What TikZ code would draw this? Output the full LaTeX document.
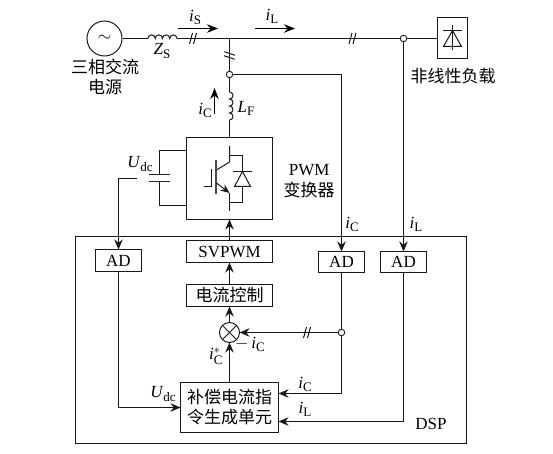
\documentclass[tikz,border=0pt]{standalone}
\usepackage{fontspec}
\setmainfont{Liberation Serif}
\newfontfamily\cjk{Noto Sans CJK SC}
\usepackage{tikz}
\usetikzlibrary{arrows.meta, positioning, calc, shapes.misc}
\newcommand{\isub}[2]{\textit{#1}\raisebox{-0.4ex}{\fontsize{13}{13}\selectfont #2}}
\tikzset{
  % wires
  wire/.style={line width=1pt, draw=black!90},
  arrowstyle/.style={
    wire, -{Stealth[length=10pt, width=8.5pt]}
  },
  flowarrow/.style={
    line width=1pt, -{Stealth[length=11pt, width=8.5pt]}
  },
  % blocks
  blockbox/.style={
    rectangle, draw=black!90, line width=1pt, fill=white,
    inner sep=0pt, outer sep=0pt, align=center,
    font=\fontsize{17}{20}\selectfont
  },
  adbox/.style={blockbox, minimum width=46pt, minimum height=22pt},
  ctrlbox/.style={blockbox, minimum width=86pt, minimum height=22pt},
  junction/.style={
    circle, draw=black!90, line width=0.9pt, fill=white,
    inner sep=0pt, minimum size=6.5pt
  },
  lbl/.style={inner sep=0pt, align=center, font=\fontsize{17}{21}\selectfont},
  cjklbl/.style={inner sep=0pt, align=center, font=\cjk\fontsize{17}{20.5}\selectfont}
}
\newcommand{\ticks}[3]{% two slashes across a wire
  \draw[line width=0.9pt, shift={(#1,#2)}, rotate=#3]
    (-3.5,5.5) -- (-0.5,-5.5) (0.5,5.5) -- (3.5,-5.5);
}
\newcommand{\coilh}[2]{% horizontal winding
  \draw[wire] (#1,#2) \foreach \k in {1,...,4} {arc[start angle=180, end angle=0, radius=3.625pt]};
}
\newcommand{\coilv}[2]{% vertical winding
  \draw[wire] (#1,#2) \foreach \k in {1,...,4} {arc[start angle=90, end angle=-90, radius=3.5pt]};
}
\begin{document}
\begin{tikzpicture}[x=1pt, y=-1pt]
  \useasboundingbox (0,0) rectangle (553,454);

  % --- DSP frame ---
  \node[draw=black!90, line width=1pt, minimum width=391pt, minimum height=207pt,
        inner sep=0pt, outer sep=0pt] (dsp) at (271,340) {};
  \node[lbl] (dsplbl) at (431,424) {DSP};

  % --- Source and load ---
  \node[circle, draw=black!90, line width=1pt, minimum size=35pt, inner sep=0pt,
        font=\fontsize{16}{16}\selectfont] (src) at (104.5,38.5) {$\sim$};
  \node[blockbox, minimum width=30pt, minimum height=41pt] (load) at (452.5,38) {};
  \node[cjklbl] (srclbl) at (105,77) {三相交流\\电源};
  \node[cjklbl] (loadlbl) at (453,76) {非线性负载};

  % diode in load
  \coordinate (dtop) at (452.5,25);
  \coordinate (dbot) at (452.5,50);
  \draw[wire] (dtop) -- (dbot);
  \draw[wire] (443,30.5) -- (462,30.5);
  \draw[wire] (452.5,30.5) -- (443.5,46.5) -- (461.5,46.5) -- cycle;

  % --- Main line ---
  \coordinate (zsl) at (148,38.5);
  \coordinate (zsr) at (177,38.5);
  \node[junction] (jload) at (403.5,38.5) {};
  \coordinate (jtee) at (229.5,38.5);
  \node[junction] (jconv) at (229.5,74.5) {};
  \coilh{148}{38.5}
  \draw[wire] (src.east) -- (zsl);
  \draw[wire] (zsr) -- (jload) -- (load.west |- jload);
  \ticks{193}{38.5}{0}
  \ticks{352.5}{38.5}{0}
  \ticks{229.5}{55.5}{87}

  \node[lbl] (zslbl) at (162,51) {\isub{Z}{S}};
  \node[lbl] (islbl) at (195,17) {\isub{i}{S}};
  \node[lbl] (illbl) at (272,16) {\isub{i}{L}};
  \coordinate (isa) at (178,28.5);
  \coordinate (isb) at (218,28.5);
  \coordinate (ila) at (255,28.5);
  \coordinate (ilb) at (295,28.5);
  \draw[flowarrow] (isa) -- (isb);
  \draw[flowarrow] (ila) -- (ilb);

  % --- Converter ---
  \node[blockbox, minimum width=86pt, minimum height=82pt] (conv) at (229.5,178.5) {};
  \coordinate (lfa) at (229.5,92);
  \coordinate (lfb) at (229.5,120);
  \coilv{229.5}{92}
  \draw[wire] (jtee) -- (jconv) -- (lfa);
  \draw[wire] (lfb) -- (conv.north -| lfb);
  \coordinate (ica) at (214.5,114);
  \coordinate (icb) at (214.5,88);
  \draw[flowarrow] (ica) -- (icb);
  \node[lbl] (iclbl) at (205,110) {\isub{i}{C}};
  \node[lbl] (lflbl) at (246,108) {\isub{L}{F}};
  \node[lbl, right=11pt of conv.east, yshift=-3pt] (pwmlbl)
    {PWM\\{\cjk 变换器}};

  % IGBT in converter
  \draw[wire] (229.5,146) -- (229.5,162) -- (216.5,170);
  \draw[line width=1.4pt, draw=black!70] (216,160) -- (216,194);
  \draw[wire] (204,186.5) -- (211.5,186.5) -- (211.5,169);
  \draw[wire, -{Stealth[length=9pt, width=7.5pt]}] (216.5,183) -- (229.5,193);
  \draw[wire] (229.5,193) -- (229.5,211);
  \draw[wire] (229.5,155.5) -- (242.5,155.5) -- (242.5,202.5) -- (229.5,202.5);
  \draw[wire] (233,171.5) -- (252,171.5);
  \draw[wire, fill=white] (242.5,171.5) -- (234.5,186.5) -- (250.5,186.5) -- cycle;

  % capacitor
  \coordinate (capa) at (159.5,174.5);
  \coordinate (capb) at (159.5,181.5);
  \coordinate (captop) at (159.5,150.5);
  \coordinate (capbot) at (159.5,205.5);
  \draw[wire] (capa) -- (captop) -- (conv.west |- captop);
  \draw[wire] (capb) -- (capbot) -- (conv.west |- capbot);
  \draw[line width=1.2pt, draw=black!85] (149,174.5) -- (170,174.5) (149,181.5) -- (170,181.5);
  \node[lbl] (udclbl) at (140,164) {\isub{U}{dc}};

  % --- Inside DSP ---
  \node[ctrlbox] (svpwm) at (229.5,251.5) {SVPWM};
  \node[ctrlbox, below=22pt of svpwm, font=\cjk\fontsize{17}{20}\selectfont] (ictrl) {电流控制};
  \node[circle, draw=black!90, line width=1pt, minimum size=20pt, inner sep=0pt,
        outer sep=0pt, below=16pt of ictrl] (summer) {};
  \draw[wire] (summer.north west) -- (summer.south east)
              (summer.north east) -- (summer.south west);
  \node[blockbox, minimum width=98pt, minimum height=50pt, font=\cjk\fontsize{17}{20}\selectfont]
    (gen) at (229.5,407.5) {补偿电流指\\令生成单元};

  \node[adbox] (adu) at (118.5,260.5) {AD};
  \node[adbox, minimum height=21pt] (adc) at (341.5,262) {AD};
  \node[adbox, minimum height=21pt] (adl) at (403.5,262) {AD};

  \coordinate (wudc) at (137,178.5);
  \draw[arrowstyle] (wudc) -| (adu.north);
  \draw[arrowstyle] (jconv) -| (adc.north);
  \draw[arrowstyle] (jload) -- (adl.north);
  \draw[arrowstyle] (svpwm) -- (conv);
  \draw[arrowstyle] (ictrl) -- (svpwm);
  \draw[arrowstyle] (summer) -- (ictrl);
  \draw[arrowstyle] (gen.north -| summer) -- (summer);

  \node[junction] (jfb) at (adc |- summer) {};
  \draw[arrowstyle] (jfb) -- (summer);
  \ticks{307}{332.5}{0}
  \coordinate (genc) at (278.5,393.5);
  \coordinate (genl) at (278.5,421.5);
  \draw[wire] (adc) -- (jfb);
  \draw[arrowstyle] (jfb) |- (genc);
  \draw[arrowstyle] (adl) |- (genl);
  \draw[arrowstyle] (adu) |- (gen.west);

  \node[lbl] (iclbla) at (352,224) {\isub{i}{C}};
  \node[lbl] (illbla) at (416,224) {\isub{i}{L}};
  \node[lbl] (iclblb) at (305,384) {\isub{i}{C}};
  \node[lbl] (illblb) at (305,409) {\isub{i}{L}};
  \node[lbl] (ifbk) at (250,344) {$-$\,\isub{i}{C}};
  \node[lbl] (iref) at (216,356) {\textit{i}$^{*}_{\hbox{\fontsize{13}{13}\selectfont C}}$};
  \node[lbl] (udclblb) at (163,394) {\isub{U}{dc}};

\end{tikzpicture}
\end{document}
